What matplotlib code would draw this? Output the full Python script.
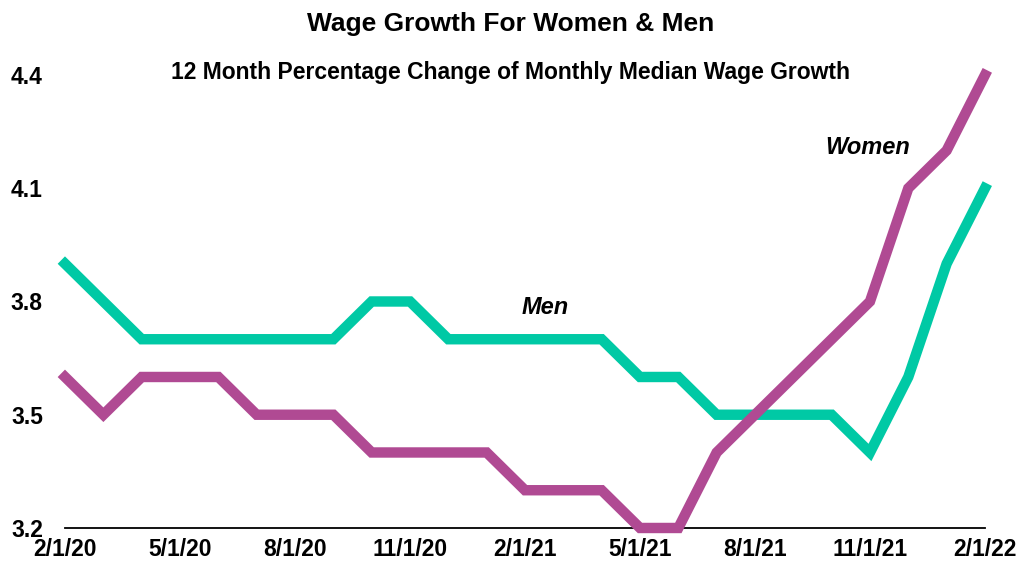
import numpy as np
import matplotlib
matplotlib.use("Agg")
import matplotlib.pyplot as plt

plt.rcParams['font.family'] = ['Liberation Sans', 'DejaVu Sans']

# monthly, 2/1/20 .. 2/1/22
months = ["2/1/20", "3/1/20", "4/1/20", "5/1/20", "6/1/20", "7/1/20", "8/1/20",
          "9/1/20", "10/1/20", "11/1/20", "12/1/20", "1/1/21", "2/1/21", "3/1/21",
          "4/1/21", "5/1/21", "6/1/21", "7/1/21", "8/1/21", "9/1/21", "10/1/21",
          "11/1/21", "12/1/21", "1/1/22", "2/1/22"]
men = [3.9, 3.8, 3.7, 3.7, 3.7, 3.7, 3.7, 3.7, 3.8, 3.8, 3.7, 3.7, 3.7,
       3.7, 3.7, 3.6, 3.6, 3.5, 3.5, 3.5, 3.5, 3.4, 3.6, 3.9, 4.1]
women = [3.6, 3.5, 3.6, 3.6, 3.6, 3.5, 3.5, 3.5, 3.4, 3.4, 3.4, 3.4, 3.3,
         3.3, 3.3, 3.2, 3.2, 3.4, 3.5, 3.6, 3.7, 3.8, 4.1, 4.2, 4.4]
yticks = [3.2, 3.5, 3.8, 4.1, 4.4]

x = np.arange(len(months))

fig = plt.figure(figsize=(10.21, 5.63), dpi=100)
ax = fig.add_axes([0.0637, 0.0622, 0.901, 0.8046])

ax.plot(x, men, color="#00C9A5", lw=7.5, clip_on=False, solid_joinstyle="miter")
ax.plot(x, women, color="#B04A93", lw=7.5, clip_on=False, solid_joinstyle="miter")

ax.set_xlim(0, len(months) - 1)
ax.set_ylim(3.2, 4.4)
ax.set_yticks(yticks)
ax.set_yticklabels([f"{v:.1f}" for v in yticks])
ax.set_xticks(x[::3])
ax.set_xticklabels(months[::3])
ax.tick_params(length=0, labelsize=16.5)
ax.tick_params(axis='x', pad=7)
ax.tick_params(axis='y', pad=16)
for lab in ax.get_xticklabels() + ax.get_yticklabels():
    lab.set_fontweight("bold")

for s in ["top", "right", "left"]:
    ax.spines[s].set_visible(False)
ax.spines["bottom"].set_linewidth(1.3)
ax.spines["bottom"].set_zorder(0.5)

ax.text(12.52, 3.783, "Men", fontsize=17, fontweight="bold", style="italic",
        ha="center", va="center")
ax.text(20.95, 4.207, "Women", fontsize=17, fontweight="bold", style="italic",
        ha="center", va="center")

fig.text(0.5, 0.958, "Wage Growth For Women & Men", fontsize=19, fontweight="bold",
         ha="center", va="center")
fig.text(0.5, 0.872, "12 Month Percentage Change of Monthly Median Wage Growth",
         fontsize=16.5, fontweight="bold", ha="center", va="center")

fig.savefig("out.png", dpi=100)
